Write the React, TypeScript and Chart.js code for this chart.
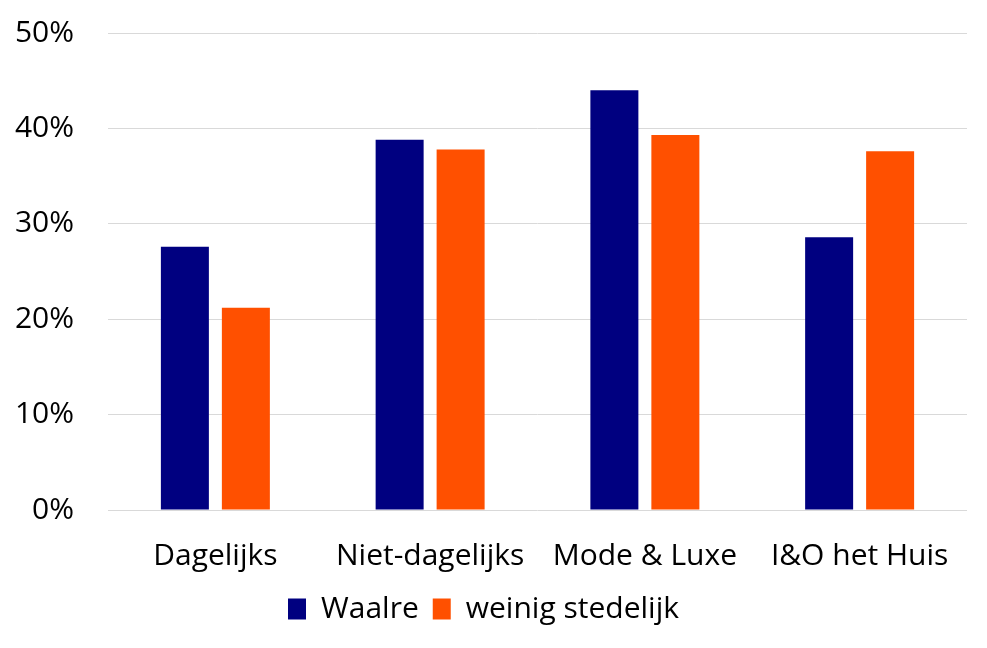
import React, { useEffect, useRef } from "react";
import { Chart, registerables } from "chart.js";

Chart.register(...registerables);

const categories = ["Dagelijks", "Niet-dagelijks", "Mode & Luxe", "I&O het Huis"];
const waalre = [27.6, 38.8, 44.0, 28.6];
const weinigStedelijk = [21.2, 37.8, 39.3, 37.6];
const seriesNames = ["Waalre", "weinig stedelijk"];
const yTicks = [0, 10, 20, 30, 40, 50];

export default function App() {
  const ref = useRef<HTMLCanvasElement | null>(null);
  useEffect(() => {
    document.body.style.margin = "0";
    const font = "'Open Sans', 'Noto Sans', sans-serif";
    const chart = new Chart(ref.current!, {
      type: "bar",
      data: {
        labels: categories,
        datasets: [
          { label: seriesNames[0], data: waalre, backgroundColor: "#000080", barPercentage: 0.787, categoryPercentage: 0.568 },
          { label: seriesNames[1], data: weinigStedelijk, backgroundColor: "#FF5000", barPercentage: 0.787, categoryPercentage: 0.568 },
        ],
      },
      options: {
        animation: false,
        responsive: false,
        maintainAspectRatio: false,
        layout: { padding: { top: 33, right: 20, left: 0, bottom: 14 } },
        plugins: {
          tooltip: { enabled: false },
          legend: {
            position: "bottom",
            labels: {
              font: { family: font, size: 30, lineHeight: 1 },
              color: "#000",
              boxWidth: 18,
              boxHeight: 21,
              padding: 14,
            },
          },
        },
        scales: {
          x: {
            afterFit: (axis: any) => {
              axis.height = 70;
              axis.paddingBottom = 0;
            },
            grid: { display: false, drawTicks: false },
            border: { display: false },
            ticks: { font: { family: font, size: 30 }, color: "#000", padding: 28, maxRotation: 0, autoSkip: false },
          },
          y: {
            min: 0,
            max: 50,
            afterBuildTicks: (axis: any) => {
              axis.ticks = yTicks.map((v) => ({ value: v }));
            },
            afterFit: (axis: any) => {
              axis.width = 108;
              axis.paddingTop = 0;
              axis.paddingBottom = 0;
            },
            grid: { color: "#d9d9d9", lineWidth: 1, drawTicks: false },
            border: { display: false },
            ticks: {
              font: { family: font, size: 30 },
              color: "#000",
              padding: 34,
              callback: (v: any) => v + "%",
            },
          },
        },
      },
    });
    return () => chart.destroy();
  }, []);
  return (
    <div style={{ width: 987, height: 648 }}>
      <canvas ref={ref} width={987} height={648} />
    </div>
  );
}
